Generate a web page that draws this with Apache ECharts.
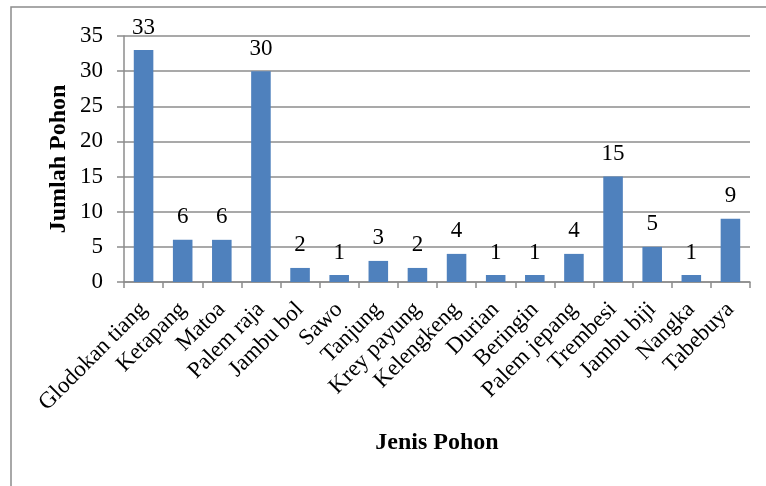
<!DOCTYPE html>
<html>
<head>
<meta charset="utf-8">
<script src="https://cdn.jsdelivr.net/npm/echarts@6/dist/echarts.min.js"></script>
<style>
  html, body { margin: 0; padding: 0; background: #fff; }
  #chart { width: 766px; height: 486px; }
</style>
</head>
<body>
<div id="chart"></div>
<script>
// Tree species and counts
const categories = ['Glodokan tiang', 'Ketapang', 'Matoa', 'Palem raja', 'Jambu bol', 'Sawo',
  'Tanjung', 'Krey payung', 'Kelengkeng', 'Durian', 'Beringin', 'Palem jepang',
  'Trembesi', 'Jambu biji', 'Nangka', 'Tabebuya'];
const counts = [33, 6, 6, 30, 2, 1, 3, 2, 4, 1, 1, 4, 15, 5, 1, 9];
const yTicks = [0, 5, 10, 15, 20, 25, 30, 35];

const serif = '"Liberation Serif", "Times New Roman", serif';
const chart = echarts.init(document.getElementById('chart'));

chart.setOption({
  animation: false,
  backgroundColor: '#fff',
  textStyle: { fontFamily: serif },
  graphic: [{
    type: 'polyline',
    shape: { points: [[11, 500], [11, 7], [800, 7]] },
    style: { stroke: '#8c8c8c', lineWidth: 1.5, fill: null }
  }],
  grid: { left: 124, right: 16, top: 36, bottom: 204, containLabel: false },
  xAxis: {
    type: 'category',
    data: categories,
    name: 'Jenis Pohon',
    nameLocation: 'middle',
    nameGap: 149,
    nameMoveOverlap: false,
    nameTextStyle: { fontFamily: serif, fontSize: 24, fontWeight: 'bold', color: '#000' },
    axisLine: { lineStyle: { color: '#8c8c8c', width: 1.5 } },
    axisTick: { show: true, length: 6, lineStyle: { color: '#8c8c8c', width: 1.5 } },
    axisLabel: { rotate: 45, interval: 0, fontFamily: serif, fontSize: 23, color: '#000', margin: 24 }
  },
  yAxis: {
    type: 'value',
    min: yTicks[0],
    max: yTicks[yTicks.length - 1],
    interval: yTicks[1] - yTicks[0],
    name: 'Jumlah Pohon',
    nameLocation: 'middle',
    nameGap: 53,
    nameMoveOverlap: false,
    nameTextStyle: { fontFamily: serif, fontSize: 24, fontWeight: 'bold', color: '#000' },
    axisLine: { show: true, lineStyle: { color: '#8c8c8c', width: 1.5 } },
    axisTick: { show: true, length: 7, lineStyle: { color: '#8c8c8c', width: 1.5 } },
    axisLabel: { fontFamily: serif, fontSize: 23, color: '#000', margin: 21 },
    splitLine: { show: true, lineStyle: { color: '#8c8c8c', width: 1.5 } }
  },
  series: [{
    type: 'bar',
    data: counts,
    barWidth: '50%',
    itemStyle: { color: '#4F81BD' },
    label: { show: true, position: 'top', distance: 11, fontFamily: serif, fontSize: 23, color: '#000' }
  }]
});
</script>
</body>
</html>
